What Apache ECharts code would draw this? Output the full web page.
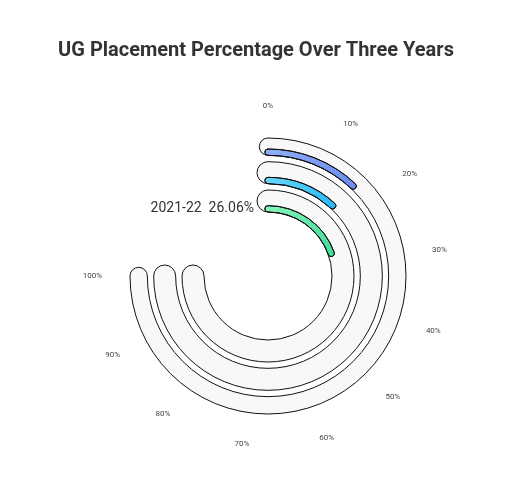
<!DOCTYPE html>
<html>
<head>
<meta charset="UTF-8">
<script src="https://cdn.jsdelivr.net/npm/echarts@6/dist/echarts.min.js"></script>
<style>html,body{margin:0;background:#fff}#chart{width:512px;height:501px}</style>
</head>
<body>
<div id="chart"></div>
<script>
var years = ['2021-22', '2022-23', '2023-24'];
var values = [26.06, 15.80, 16.09];
var track = [100, 100, 100];
var colors = [['#8af5bd', '#3ddc97'], ['#6fd6fb', '#22b8f5'], ['#8fb0f8', '#6a8cf0']];

var chart = echarts.init(document.getElementById('chart'));
chart.setOption({
  title: {
    text: 'UG Placement Percentage Over Three Years',
    left: 'center', top: 36,
    textStyle: { fontSize: 20, fontWeight: 'bold', color: '#333', fontFamily: 'Roboto' }
  },
  polar: { center: [268, 276], radius: [53, 138] },
  angleAxis: {
    min: 0, max: 100, interval: 10,
    startAngle: 90, endAngle: -180,
    axisLine: { show: false }, axisTick: { show: false }, splitLine: { show: false },
    axisLabel: { formatter: '{value}%', fontSize: 8, color: '#444', margin: 28, fontFamily: 'Roboto' }
  },
  radiusAxis: {
    type: 'category', data: years, z: 10,
    axisLine: { show: false }, axisTick: { show: false },
    axisLabel: {
      fontSize: 14, color: '#333', margin: 14, fontFamily: 'Roboto',
      formatter: function (v, i) { return v + '  ' + values[i].toFixed(2) + '%'; }
    }
  },
  series: [{
    type: 'bar', coordinateSystem: 'polar', roundCap: true, barWidth: 22,
    silent: true, z: 1,
    itemStyle: { color: '#f8f8f8', borderColor: '#111', borderWidth: 1 },
    data: track
  }, {
    type: 'bar', coordinateSystem: 'polar', roundCap: true, barWidth: 22,
    barGap: '-100%', z: 2,
    data: values.map(function (v, i) {
      return {
        value: v,
        itemStyle: {
          borderColor: '#111', borderWidth: 1,
          color: new echarts.graphic.LinearGradient(0, 0, 1, 1, [
            { offset: 0, color: colors[i][0] }, { offset: 1, color: colors[i][1] }
          ])
        }
      };
    })
  }]
});
</script>
</body>
</html>
